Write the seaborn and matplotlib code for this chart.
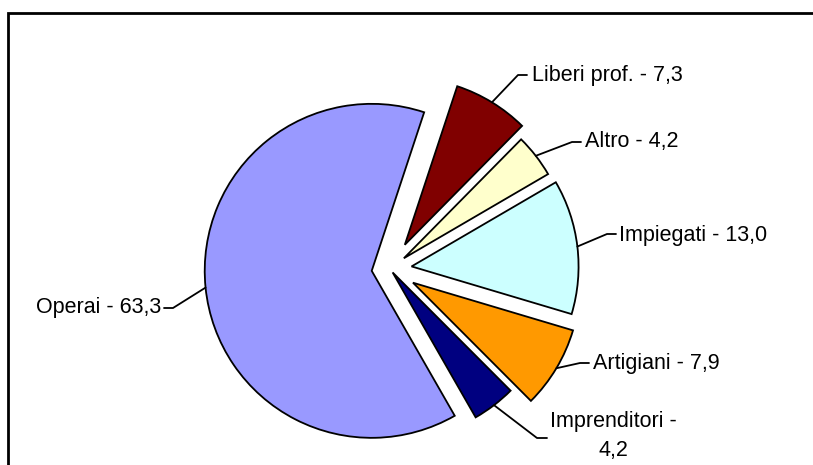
import numpy as np
import matplotlib
matplotlib.use("Agg")
import matplotlib.pyplot as plt
import seaborn as sns
from matplotlib.patches import Rectangle

sns.set_style("white")
plt.rcParams['font.family'] = ['Liberation Sans', 'DejaVu Sans']

# data (clockwise from the top)
categories = ['Liberi prof.', 'Altro', 'Impiegati', 'Artigiani', 'Imprenditori', 'Operai']
values = [7.3, 4.2, 13.0, 7.9, 4.2, 63.3]
labels = ['Liberi prof. - 7,3', 'Altro - 4,2', 'Impiegati - 13,0', 'Artigiani - 7,9',
          'Imprenditori -\n4,2', 'Operai - 63,3']
colors = ['#800000', '#FFFFCC', '#CCFFFF', '#FF9900', '#000080', '#9999FF']
explode = [0.17, 0.105, 0.13, 0.16, 0.026, 0.11]

# pixel -> data helper (pie centre at px (390, 269), radius 167 px)
CX, CY, R = 390, 269, 167
W, H = 813, 465


def px(x, y):
    return (x - CX) / R, (CY - y) / R


fig = plt.figure(figsize=(W / 100, H / 100), dpi=100)
ax = fig.add_axes([0, 0, 1, 1])

wedges, _ = ax.pie(values, colors=colors, explode=explode, startangle=90 - 18.3,
                   counterclock=False, radius=1,
                   wedgeprops=dict(edgecolor='black', linewidth=1.3))
# pie() resets limits, so set them afterwards
ax.set_aspect('auto')
ax.set_xlim(-CX / R, (W - CX) / R)
ax.set_ylim(-(H - CY) / R, CY / R)
ax.axis('off')

# label text position, elbow of the leader, alignment
label_pos = [(532, 75, 'left'), (585, 142, 'left'), (619, 235, 'left'),
             (593, 363, 'left'), (613, 436, 'center'), (161, 308, 'right')]
elbows = [(518, 75, 527), (572, 142, 581), (607, 234, 616),
          (580, 363, 589), (537, 438, 547), (173, 308, 164)]

for w, lab, (tx, ty, ha), (ex, ey, ex2) in zip(wedges, labels, label_pos, elbows):
    mid = np.deg2rad((w.theta1 + w.theta2) / 2)
    cx, cy = w.center
    ax0 = cx + w.r * np.cos(mid)
    ay0 = cy + w.r * np.sin(mid)
    e1 = px(ex, ey)
    e2 = px(ex2, ey)
    ax.plot([ax0, e1[0], e2[0]], [ay0, e1[1], e2[1]], color='black', lw=1.3)
    t = px(tx, ty)
    ax.text(t[0], t[1], lab, ha=ha, va='center', fontsize=15.5, color='black',
            linespacing=1.45, multialignment='center')

# chart frame
fig.patches.append(Rectangle((8 / W, -0.05), 1.1, (H - 13) / H + 0.05,
                             transform=fig.transFigure, fill=False,
                             edgecolor='black', linewidth=2))

fig.savefig('out.png', dpi=100)
